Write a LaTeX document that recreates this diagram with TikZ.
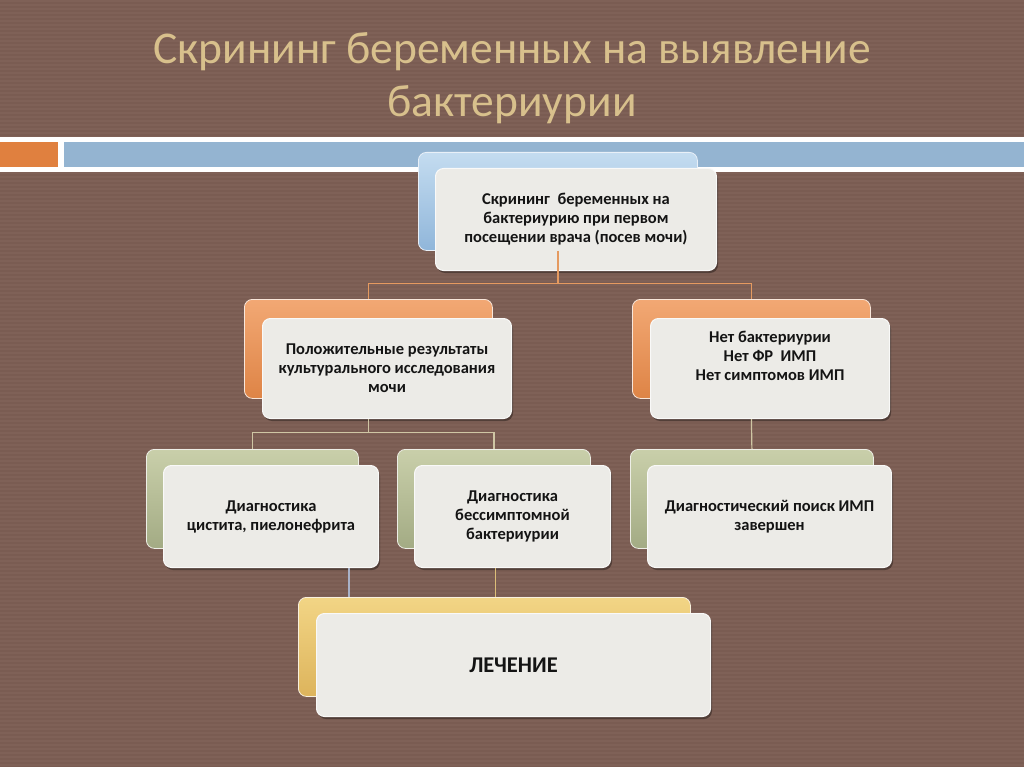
\documentclass[tikz,border=0pt]{standalone}
\usepackage{fontspec}
\setmainfont{Carlito}
\usetikzlibrary{shadows}
\definecolor{bg}{HTML}{7A5C52}
\definecolor{bgline}{HTML}{7F6157}
\definecolor{titlec}{HTML}{D8C08C}
\definecolor{barorange}{HTML}{E0803F}
\definecolor{barblue}{HTML}{94B4D1}
\definecolor{frontc}{HTML}{ECEBE7}
\definecolor{txt}{HTML}{141414}
\definecolor{bluetop}{HTML}{C4DCF0}
\definecolor{bluebot}{HTML}{90B6DA}
\definecolor{orangetop}{HTML}{F2A874}
\definecolor{orangebot}{HTML}{DE8446}
\definecolor{greentop}{HTML}{C9CFAA}
\definecolor{greenbot}{HTML}{A3AB84}
\definecolor{goldtop}{HTML}{F2D585}
\definecolor{goldbot}{HTML}{DDB45C}
\definecolor{lineorange}{HTML}{E59A60}
\definecolor{linetan}{HTML}{CFC6A4}
\definecolor{lineblue}{HTML}{A9B2C8}
\definecolor{linegold}{HTML}{DDBE78}
\tikzset{
  backbox/.style={rounded corners=8pt, anchor=north west, inner sep=0pt, draw=white!80!#1bot, line width=0.8pt, top color=#1top, bottom color=#1bot},
  frontbox/.style={rounded corners=8pt, anchor=north west, inner sep=4pt, fill=frontc, draw=white!70!frontc, line width=1pt,
     drop shadow={shadow xshift=1.5pt, shadow yshift=-2.5pt, opacity=0.35, fill=black},
     font=\fontsize{16.5}{19}\selectfont\bfseries, text=txt, align=center},
  conn/.style={line width=1.2pt, #1}
}
\begin{document}
\begin{tikzpicture}[x=1pt,y=-1pt]
\useasboundingbox (0,0) rectangle (1024,767);
\fill[bg] (0,0) rectangle (1024,767);
\foreach \yy in {1,5,...,767} { \draw[bgline, line width=1.3pt] (0,\yy) -- (1024,\yy); }
% title
\node[text=titlec, font=\fontsize{45.5}{53}\selectfont, align=center] (title) at (512,78) {Скрининг беременных на выявление\\бактериурии};
% top bar
\fill[white] (0,137) rectangle (1024,172);
\fill[barorange] (0,142) rectangle (58,167);
\fill[barblue] (64,142) rectangle (1024,167);
% level 1
\node[backbox=blue, minimum width=279pt, minimum height=98pt] (tB) at (418,152) {};
\node[frontbox, minimum width=281pt, minimum height=102pt] (tF) at (435,168) {Скрининг\ \ беременных на\\бактериурию при первом\\посещении врача (посев мочи)};
% level 2
\node[backbox=orange, minimum width=248pt, minimum height=99pt] (aB) at (244,299) {};
\node[backbox=orange, minimum width=238pt, minimum height=99pt] (bB) at (632,299) {};
% level 3
\node[backbox=green, minimum width=212pt, minimum height=99pt] (cB) at (146,449) {};
\node[backbox=green, minimum width=193pt, minimum height=99pt] (dB) at (397,449) {};
\node[backbox=green, minimum width=243pt, minimum height=99pt] (eB) at (630,449) {};
% level 4
\node[backbox=gold, minimum width=392pt, minimum height=99pt] (fB) at (298,597) {};
% connectors
\draw[conn=lineorange] (tB.south) -- ++(0,33) coordinate (j1);
\draw[conn=lineorange] (aB.north) |- (j1) -| (bB.north);
\draw[conn=linetan] (aB.south) ++(0,20) -- ++(0,14) coordinate (j2);
\draw[conn=linetan] (cB.north) |- (j2) -| (dB.north);
% fronts
\node[frontbox, minimum width=249pt, minimum height=100pt] (aF) at (262,318) {Положительные результаты\\культурального исследования\\мочи};
\node[frontbox, minimum width=239pt, minimum height=100pt] (bF) at (650,318) {Нет бактериурии\\Нет ФР\ \ ИМП\\Нет симптомов ИМП\\[6pt]};
\draw[conn=linetan] (bF.south -| bB.south) -- (eB.north);
\draw[conn=linetan] (aF.south -| aB.south) -- ++(0,14);
\node[frontbox, minimum width=215pt, minimum height=102pt] (cF) at (163,465) {Диагностика\\цистита, пиелонефрита};
\node[frontbox, minimum width=196pt, minimum height=102pt] (dF) at (414,465) {Диагностика\\бессимптомной\\бактериурии};
\node[frontbox, minimum width=244pt, minimum height=102pt] (eF) at (647,465) {Диагностический поиск ИМП\\завершен};
\draw[conn=lineblue] ([xshift=78pt]cF.south) -- ([xshift=78pt]cF.south |- fB.north);
\draw[conn=linegold] ([xshift=-17pt]dF.south) -- ([xshift=-17pt]dF.south |- fB.north);
\node[frontbox, minimum width=394pt, minimum height=103pt, font=\fontsize{22.5}{26}\selectfont\bfseries] (fF) at (316,613) {ЛЕЧЕНИЕ};
\end{tikzpicture}
\end{document}
